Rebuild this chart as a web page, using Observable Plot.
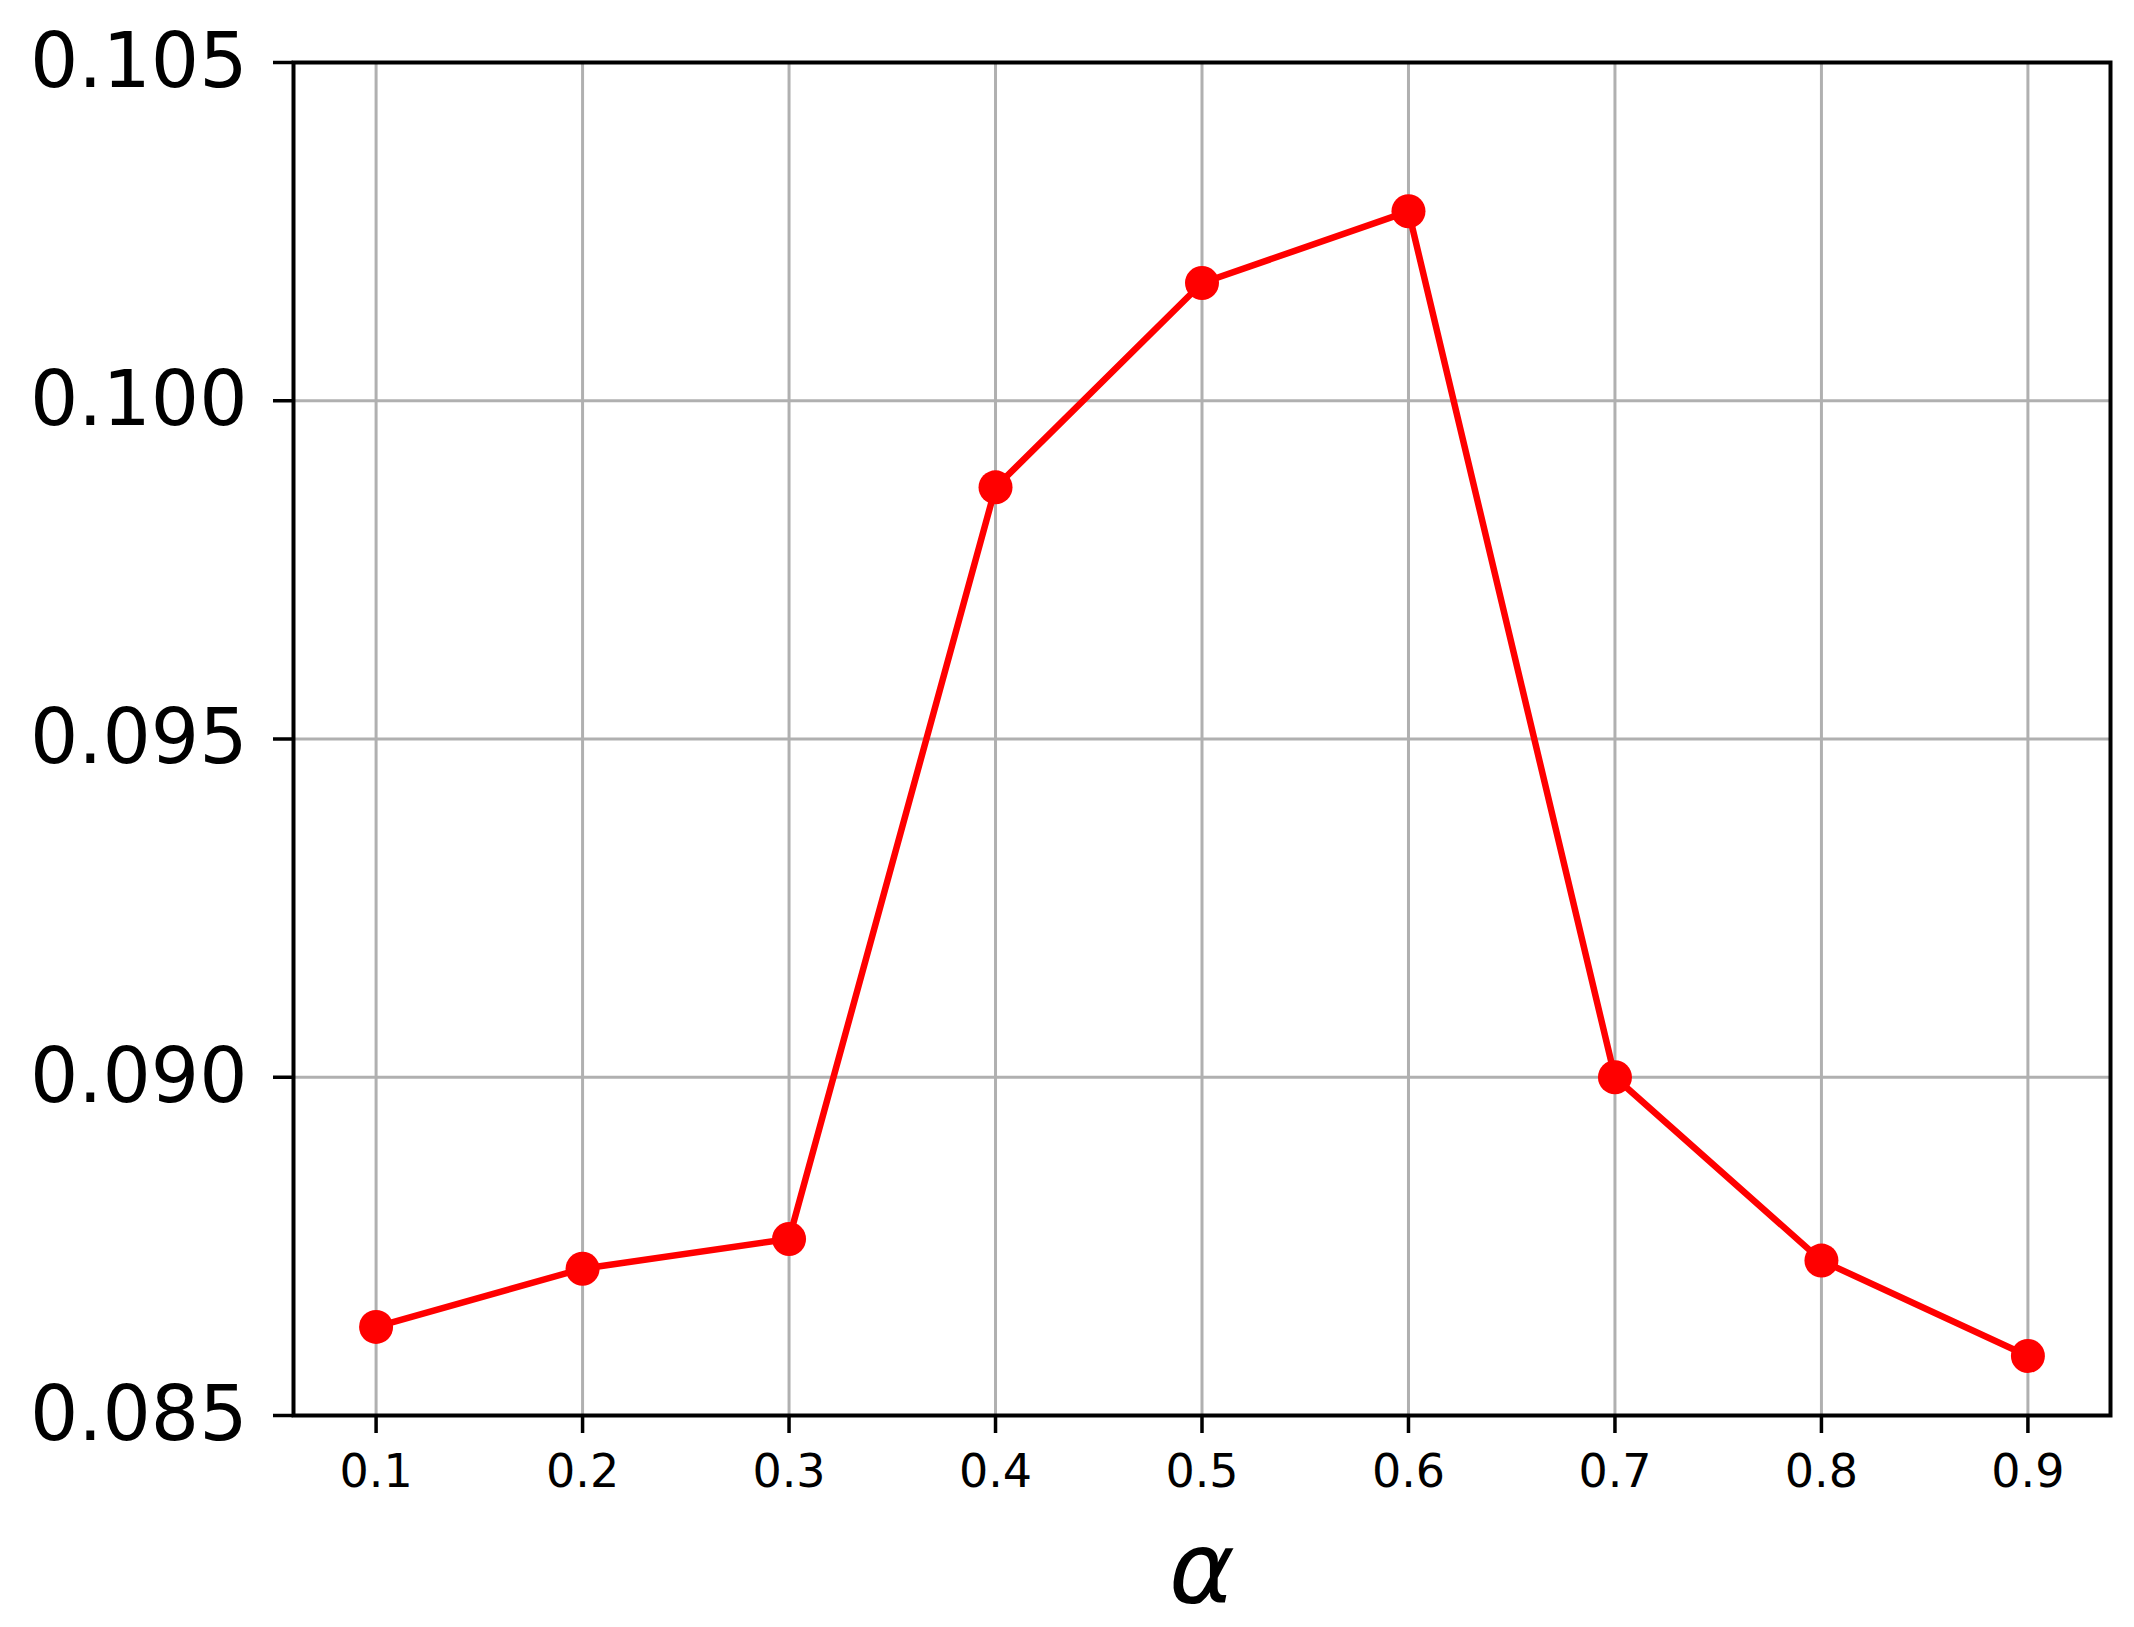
<!DOCTYPE html>
<html>
<head>
<meta charset="utf-8">
<script src="https://cdn.jsdelivr.net/npm/d3@7"></script>
<script src="https://cdn.jsdelivr.net/npm/@observablehq/plot@0.6"></script>
<style>
  html, body { margin: 0; padding: 0; background: #fff; }
  #chart svg { display: block; }
</style>
</head>
<body>
<div id="chart"></div>
<script>
const alphas = [0.1, 0.2, 0.3, 0.4, 0.5, 0.6, 0.7, 0.8, 0.9];
const scores = [0.08631, 0.08717, 0.08761, 0.09872, 0.10174, 0.10280, 0.0900, 0.08729, 0.08588];
const xTicks = [0.1, 0.2, 0.3, 0.4, 0.5, 0.6, 0.7, 0.8, 0.9];
const yTicks = [0.085, 0.090, 0.095, 0.100, 0.105];
const xLabel = "α";

const data = alphas.map((a, i) => ({alpha: a, score: scores[i]}));

const chart = Plot.plot({
  width: 2134,
  height: 1627,
  marginLeft: 293,
  marginRight: 24,
  marginTop: 62,
  marginBottom: 212,
  style: {fontFamily: "DejaVu Sans", background: "#fff", color: "#000"},
  x: {domain: [0.06, 0.94]},
  y: {domain: [0.085, 0.105]},
  marks: [
    Plot.gridX(xTicks, {stroke: "#b0b0b0", strokeOpacity: 1, strokeWidth: 3}),
    Plot.gridY(yTicks, {stroke: "#b0b0b0", strokeOpacity: 1, strokeWidth: 3}),
    Plot.axisX(xTicks, {tickSize: 18, tickPadding: 21, fontSize: 46, strokeWidth: 3.5, tickFormat: d3.format(".1f"), label: null}),
    Plot.axisY(yTicks, {tickSize: 20, tickPadding: 26, fontSize: 76, strokeWidth: 3.5, tickFormat: d3.format(".3f"), label: null}),
    Plot.line(data, {x: "alpha", y: "score", stroke: "#ff0000", strokeWidth: 6.5}),
    Plot.dot(data, {x: "alpha", y: "score", r: 17, fill: "#ff0000", stroke: "none"}),
    Plot.frame({stroke: "#000", strokeWidth: 4}),
    Plot.text([xLabel], {frameAnchor: "bottom", dy: 155, fontSize: 100, fontStyle: "italic", fill: "#000", lineAnchor: "middle"})
  ]
});
document.getElementById("chart").appendChild(chart);
</script>
</body>
</html>
